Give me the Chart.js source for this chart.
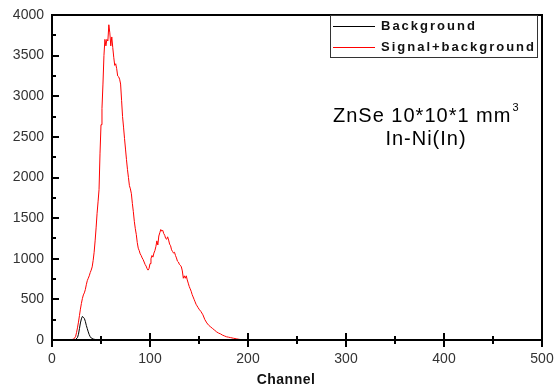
<!DOCTYPE html>
<html>
<head>
<meta charset="utf-8">
<script src="https://cdn.jsdelivr.net/npm/chart.js@4.4.1/dist/chart.umd.min.js"></script>
<style>
  body { margin: 0; background: #fff; }
  canvas { display: block; }
</style>
</head>
<body>
<canvas id="spectrum" width="555" height="387"></canvas>
<script>
const FONT = '"Liberation Sans", Arial, sans-serif';

// Signal+background spectrum (channel, counts)
const signalChannels = [
  0, 10, 20, 22, 24, 25, 26, 27, 28, 29, 30, 31, 32, 33, 34, 35, 36, 37, 38, 39,
  40, 41, 42, 43, 44, 45, 46, 47, 48, 49, 50, 51, 52, 53, 54, 55, 56, 57, 58, 59,
  60, 61, 62, 63, 64, 65, 66, 67, 68, 69, 70, 71, 72, 73, 74, 75, 76, 77, 78, 79,
  80, 81, 82, 83, 84, 85, 86, 87, 88, 89, 90, 91, 92, 93, 94, 95, 96, 97, 98, 99,
  100, 101, 102, 103, 104, 105, 106, 107, 108, 109, 110, 111, 112, 113, 114, 115, 116, 117, 118, 119,
  120, 121, 122, 123, 124, 125, 126, 127, 128, 129, 130, 131, 132, 133, 134, 135, 136, 137, 138, 139,
  140, 141, 142, 143, 144, 145, 146, 147, 148, 149, 150, 152, 154, 156, 158, 160, 162, 164, 166, 168,
  170, 172, 174, 176, 178, 180, 182, 185, 188, 191, 195, 200, 220, 240, 260, 280, 300, 320, 340, 360,
  380, 400, 420, 440, 470
];
const signalCounts = [
  0, 0, 5, 10, 40, 90, 150, 220, 300, 380, 450, 510, 555, 580, 620, 680, 730, 760, 790, 830,
  860, 900, 980, 1080, 1220, 1380, 1560, 1700, 1850, 2300, 2650, 2850, 3150, 3500, 3700, 3620, 3700, 3680, 3880, 3780,
  3620, 3730, 3600, 3480, 3380, 3400, 3340, 3250, 3240, 3210, 3150, 2950, 2750, 2620, 2480, 2350, 2220, 2100, 2000, 1900,
  1860, 1800, 1680, 1580, 1460, 1370, 1300, 1200, 1130, 1100, 1060, 1040, 1010, 990, 960, 930, 910, 880, 860, 880,
  940, 1000, 1040, 1020, 1070, 1100, 1150, 1220, 1170, 1280, 1320, 1360, 1340, 1350, 1310, 1290, 1250, 1240, 1270, 1230,
  1180, 1160, 1110, 1090, 1070, 1080, 1040, 1010, 970, 960, 930, 920, 900, 850, 760, 790, 760, 790, 740, 700,
  660, 630, 600, 560, 530, 500, 470, 440, 420, 400, 380, 350, 310, 250, 210, 180, 160, 140, 120, 100,
  85, 75, 60, 50, 40, 35, 30, 22, 15, 8, 3, 0, 4, 0, 3, 0, 5, 0, 4, 0,
  3, 0, 4, 0, 0
];

// Background spectrum
const backgroundChannels = [0, 10, 20, 24, 26, 27, 28, 29, 30, 31, 32, 33, 34, 35, 36, 37, 38, 39, 40, 42, 44, 46, 50, 55, 60, 65, 70, 75];
const backgroundCounts = [0, 0, 0, 5, 30, 70, 140, 210, 260, 290, 280, 265, 230, 180, 140, 100, 65, 40, 25, 12, 6, 3, 5, 3, 6, 4, 2, 0];

const xTicks = [0, 100, 200, 300, 400, 500];
const yTicks = [0, 500, 1000, 1500, 2000, 2500, 3000, 3500, 4000];

const toPoints = (xs, ys) => xs.map((x, i) => ({ x, y: ys[i] }));

// frame, inward ticks, legend box, annotation and axis title
const decorations = {
  id: 'decorations',
  afterDraw(chart) {
    const { ctx, chartArea: a, scales } = chart;
    const sx = scales.x;
    const sy = scales.y;
    ctx.save();
    ctx.strokeStyle = '#000';
    ctx.lineWidth = 2;
    ctx.strokeRect(a.left, a.top, a.right - a.left, a.bottom - a.top);

    ctx.beginPath();
    for (let v = 0; v <= 4000; v += 250) {
      const py = Math.round(sy.getPixelForValue(v));
      const len = v % 500 === 0 ? 7 : 4;
      ctx.moveTo(a.left, py);
      ctx.lineTo(a.left + len, py);
    }
    for (let v = 0; v <= 500; v += 50) {
      const px = Math.round(sx.getPixelForValue(v));
      const len = v % 100 === 0 ? 7 : 4;
      ctx.moveTo(px, a.bottom - len);
      ctx.lineTo(px, a.bottom + len);
    }
    ctx.stroke();

    // legend
    ctx.lineWidth = 1;
    ctx.strokeStyle = '#333';
    ctx.strokeRect(330.5, 15.5, 207, 42);
    ctx.font = 'bold 13px ' + FONT;
    ctx.letterSpacing = '2px';
    ctx.textBaseline = 'middle';
    ctx.textAlign = 'left';
    chart.data.datasets.forEach((ds, i) => {
      const y = 26.5 + i * 21;
      ctx.strokeStyle = ds.borderColor;
      ctx.beginPath();
      ctx.moveTo(333, y);
      ctx.lineTo(375, y);
      ctx.stroke();
      ctx.fillStyle = '#111';
      ctx.fillText(ds.label, 381, y);
    });

    // annotation
    ctx.fillStyle = '#000';
    ctx.textBaseline = 'alphabetic';
    ctx.font = '20px ' + FONT;
    ctx.letterSpacing = '1px';
    const main = 'ZnSe 10*10*1 mm';
    const w = ctx.measureText(main).width;
    ctx.fillText(main, 333, 122);
    ctx.font = '11px ' + FONT;
    ctx.letterSpacing = '0px';
    ctx.fillText('3', 333 + w + 1, 111);
    ctx.font = '20px ' + FONT;
    ctx.letterSpacing = '1px';
    ctx.textAlign = 'center';
    ctx.fillText('In-Ni(In)', 426, 145);

    // x axis title
    ctx.font = 'bold 14px ' + FONT;
    ctx.letterSpacing = '0.5px';
    ctx.fillStyle = '#111';
    ctx.fillText('Channel', 286, 384);
    ctx.restore();
  }
};

const tickFont = { family: FONT, size: 14 };

new Chart(document.getElementById('spectrum'), {
  type: 'line',
  data: {
    datasets: [
      {
        label: 'Background',
        data: toPoints(backgroundChannels, backgroundCounts),
        borderColor: '#000',
        borderWidth: 1,
        pointRadius: 0,
        tension: 0
      },
      {
        label: 'Signal+background',
        data: toPoints(signalChannels, signalCounts),
        borderColor: '#ff0000',
        borderWidth: 1,
        pointRadius: 0,
        tension: 0
      }
    ]
  },
  options: {
    responsive: false,
    animation: false,
    events: [],
    layout: { padding: { top: 15, right: 13, left: 0, bottom: 0 } },
    plugins: { legend: { display: false }, tooltip: { enabled: false } },
    scales: {
      x: {
        type: 'linear',
        min: 0,
        max: 500,
        afterBuildTicks: (s) => { s.ticks = xTicks.map((value) => ({ value })); },
        afterFit: (s) => {
          s.height = 47;
          s.paddingLeft = 0;
          s.paddingRight = 0;
        },
        grid: { display: false, drawTicks: false },
        border: { display: false },
        ticks: { padding: 11, maxRotation: 0, color: '#333', font: tickFont, callback: (v) => String(v) }
      },
      y: {
        min: 0,
        max: 4000,
        afterBuildTicks: (s) => { s.ticks = yTicks.map((value) => ({ value })); },
        afterFit: (s) => {
          s.width = 52;
          s.paddingTop = 0;
          s.paddingBottom = 0;
        },
        grid: { display: false, drawTicks: false },
        border: { display: false },
        ticks: { padding: 8, color: '#333', font: tickFont, callback: (v) => String(v) }
      }
    }
  },
  plugins: [decorations]
});
</script>
</body>
</html>
